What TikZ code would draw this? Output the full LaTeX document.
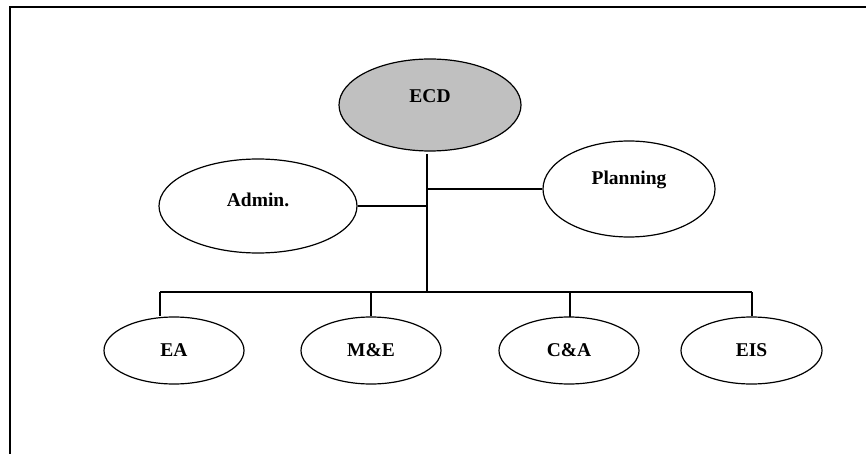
\documentclass[tikz,border=0pt]{standalone}
\usepackage{fontspec}
\setmainfont{Liberation Serif}
\usetikzlibrary{shapes.geometric}
\definecolor{headgray}{HTML}{C0C0C0}
\tikzset{
  unit/.style={ellipse, draw=black, line width=1.2pt, inner sep=0pt, fill=white},
  unittext/.style={font=\fontsize{19.5}{23}\selectfont\bfseries, inner sep=0pt},
  link/.style={draw=black, line width=1.2pt},
  frame/.style={draw=black, line width=1.8pt}
}
\begin{document}
\begin{tikzpicture}[x=1pt, y=-1pt]
  \useasboundingbox (0,0) rectangle (866,454);

  % page frame (top and left edges)
  \draw[frame] (9.8,454) -- (9.8,6.8) -- (866,6.8);

  % head unit
  \node[unit, fill=headgray, minimum width=182pt, minimum height=92pt,
        label={[unittext, yshift=9pt]center:ECD}] (ecd) at (430,105) {};

  % staff units
  \node[unit, minimum width=198pt, minimum height=94pt,
        label={[unittext, yshift=6pt]center:Admin.}] (admin) at (258,206) {};
  \node[unit, minimum width=172pt, minimum height=96pt,
        label={[unittext, yshift=9pt]center:Planning}] (plan) at (629,189) {};

  % line units
  \node[unit, minimum width=140pt, minimum height=67pt] (ea)  at (174,350.5) {};
  \node[unit, minimum width=140pt, minimum height=67pt] (me)  at (371,350.5) {};
  \node[unit, minimum width=140pt, minimum height=67pt] (ca)  at (569,350.5) {};
  \node[unit, minimum width=141pt, minimum height=67pt] (eis) at (751.5,350.5) {};
  \node[unittext] (eat)  at (ea)  {EA};
  \node[unittext] (met)  at (me)  {M\&E};
  \node[unittext] (cat)  at (ca)  {C\&A};
  \node[unittext] (eist) at (eis) {EIS};

  % trunk and bus junctions
  \coordinate (trunktop) at (427,154);
  \coordinate (trunkbot) at (427,292);
  \coordinate (busL) at (160,292);
  \coordinate (busR) at (752,292);

  \draw[link] (trunktop) -- (trunkbot);
  \draw[link] (admin.east) -- (admin.east -| trunktop);
  \draw[link] (plan.west -| trunktop) -- (plan.west);
  \draw[link] (busL) -- (busR);

  % drops to the line units
  \draw[link] (busL) -- (busL |- ea.north);
  \draw[link] (me.north |- busL) -- (me.north);
  \draw[link] (570,292) -- (570,317);
  \draw[link] (busR) -- (busR |- eis.north);
\end{tikzpicture}
\end{document}
